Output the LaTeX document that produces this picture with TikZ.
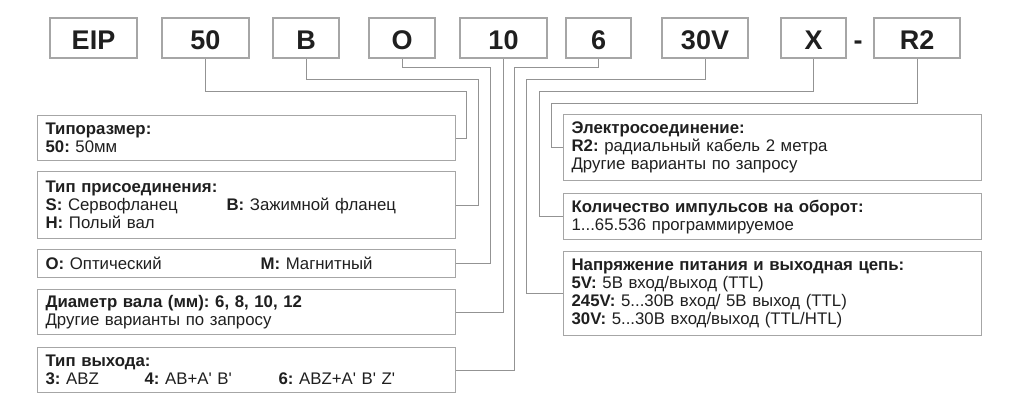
\documentclass[tikz,border=0pt]{standalone}
\usepackage{fontspec}
\setmainfont{Liberation Sans}
\frenchspacing
\newcommand{\apos}{\textquotesingle}

\tikzset{
  codebox/.style={draw=gray!70, line width=1.2pt, minimum height=40pt, inner sep=0pt,
    text height=24pt, text depth=0pt,
    font=\fontsize{27}{28}\selectfont\bfseries, text=black!88},
  infobox/.style={draw=gray!70, line width=1.2pt, anchor=north west, minimum width=418pt,
    text width=402pt, inner xsep=8pt, inner ysep=0pt, align=left,
    font=\fontsize{16.8}{18}\selectfont, text=black!88},
  wire/.style={draw=gray!85, line width=0.9pt}
}

\begin{document}
\begin{tikzpicture}[x=1pt,y=-1pt]
  \useasboundingbox (0,0) rectangle (1024,409);
  % code fields
  \foreach \n/\x/\w/\t in {tEIP/93.5/87/EIP, t50/205.5/87/50, tB/306/66/B, tO/402/66/O,
      t10/503.5/87/10, t6/598.5/65/6, t30/705/86/30V, tX/813.5/65/X, tR/917/86/R2}{
    \node[codebox, minimum width=\w pt] (\n) at (\x,38) {\t};
  }
  \node[codebox, draw=none] (dash) at (858,38) {-};
  % left descriptions
  \node[infobox, minimum height=45pt] (size) at (37,115)
    {\textbf{Типоразмер:}\\\textbf{50:} 50мм};
  \node[infobox, minimum height=67pt] (conn) at (37,171)
    {\textbf{Тип присоединения:}\\
     \makebox[181pt][l]{\textbf{S:} Сервофланец}\textbf{B:} Зажимной фланец\\
     \textbf{H:} Полый вал};
  \node[infobox, minimum height=28pt] (sens) at (37,249)
    {\makebox[215pt][l]{\textbf{O:} Оптический}\textbf{M:} Магнитный};
  \node[infobox, minimum height=45pt] (shaft) at (37,289)
    {\textbf{Диаметр вала (мм): 6, 8, 10, 12}\\Другие варианты по запросу};
  \node[infobox, minimum height=45pt] (out) at (37,347)
    {\textbf{Тип выхода:}\\
     \makebox[99pt][l]{\textbf{3:} ABZ}\makebox[134pt][l]{\textbf{4:} AB+A\apos{} B\apos}\textbf{6:} ABZ+A\apos{} B\apos{} Z\apos};
  % right descriptions
  \node[infobox, minimum height=66pt] (el) at (563,114)
    {\textbf{Электросоединение:}\\\textbf{R2:} радиальный кабель 2 метра\\Другие варианты по запросу};
  \node[infobox, minimum height=46pt] (ppr) at (563,193)
    {\textbf{Количество импульсов на оборот:}\\1...65.536 программируемое};
  \node[infobox, minimum height=84pt] (volt) at (563,251)
    {\textbf{Напряжение питания и выходная цепь:}\\
     \textbf{5V:} 5В вход/выход (TTL)\\
     \textbf{245V:} 5...30В вход/ 5В выход (TTL)\\
     \textbf{30V:} 5...30В вход/выход (TTL/HTL)};
  % bends
  \coordinate (k50) at (466,91);
  \coordinate (kB) at (478,79);
  \coordinate (kO) at (490,67);
  \coordinate (k6) at (514,67);
  \coordinate (k30) at (526,79);
  \coordinate (kX) at (539,91);
  \coordinate (kR) at (551,103);
  % connectors
  \draw[wire] (t50.south) |- (k50) |- (size.east);
  \draw[wire] (tB.south) |- (kB) |- (conn.east);
  \draw[wire] (tO.south) |- (kO) |- (sens.east);
  \draw[wire] (t10.south) |- (shaft.east);
  \draw[wire] (t6.south) |- (k6) |- (out.east);
  \draw[wire] (t30.south) |- (k30) |- (volt.west);
  \draw[wire] (tX.south) |- (kX) |- (ppr.west);
  \draw[wire] (tR.south) |- (kR) |- (el.west);
\end{tikzpicture}
\end{document}
